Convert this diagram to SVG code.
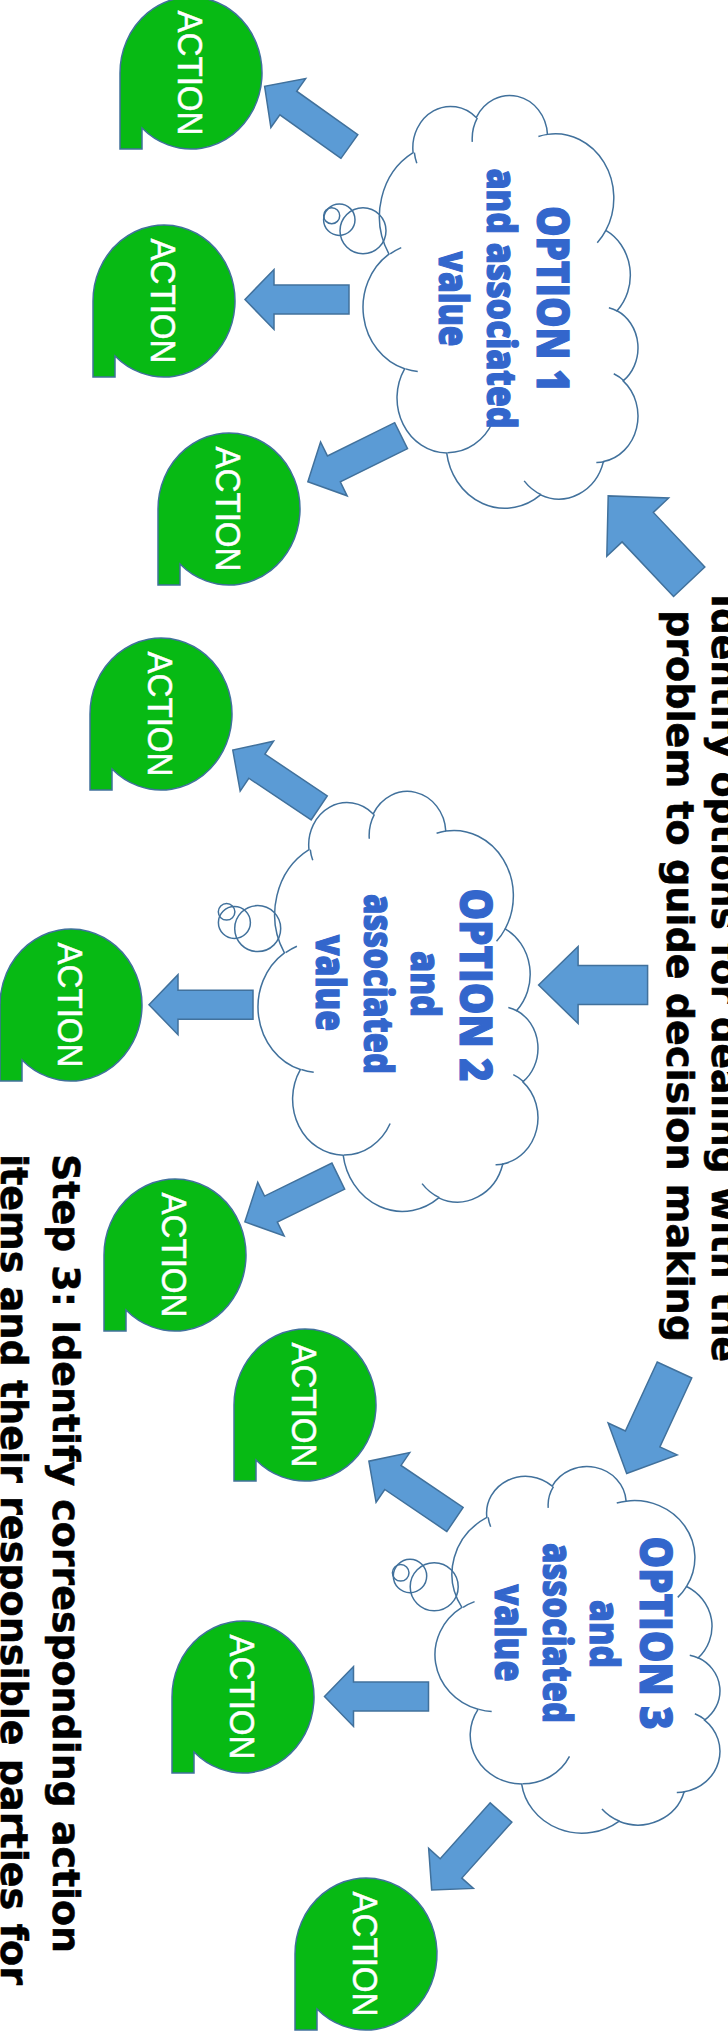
<svg xmlns="http://www.w3.org/2000/svg" xmlns:xlink="http://www.w3.org/1999/xlink" width="728" height="2038" viewBox="0 0 728 2038">
<style>
.bub{fill:#07BA14;stroke:#41719C;stroke-width:1.5}
.act{font-family:"Liberation Sans",Arial,sans-serif;font-size:35px;fill:#FFFFFF;stroke:#FFFFFF;stroke-width:0.5;text-anchor:middle}
.cl{fill:#FFFFFF;stroke:#41719C;stroke-width:1.5;vector-effect:non-scaling-stroke}
.tk{fill:none;stroke:#41719C;stroke-width:1.5;vector-effect:non-scaling-stroke}
.th{fill:none;stroke:#41719C;stroke-width:1.5}
.opt{font-family:"Open Sans","DejaVu Sans",sans-serif;font-weight:800;fill:#3366CC;stroke:#3366CC;stroke-width:1.2;text-anchor:middle}
.o1{font-size:44px}
.o2{font-size:40px}
.arr{fill:#5B9BD5;stroke:#41719C;stroke-width:1.5}
.ttl{font-family:"DejaVu Sans","Liberation Sans",sans-serif;font-weight:bold;font-size:38px;fill:#000000;stroke:#000000;stroke-width:0.6}
</style>
<defs>
<path id="bubble" class="bub" d="M0,76 L0,152 L22,152 L22,131 A71,76 0 1 0 0,76 Z"/>
<path id="cloudShape" class="cl" d="M3900,14370 A6753,9190 0 0 1 14005,5202 A5333,7267 0 0 1 22452,3431 A4365,5945 0 0 1 29826,2479 A4857,6595 0 0 1 38315,5571 A5333,7273 0 0 1 41816,15462 A6775,9220 0 0 1 37402,30205 A5785,7867 0 0 1 28552,36814 A6752,9215 0 0 1 16485,39271 A7720,10543 0 0 1 5827,35483 A4360,5918 0 0 1 2130,25568 A4345,5945 0 0 1 3900,14370 Z"/>
<path id="cloudTicks" class="tk" d="M4693,26177 A4345,5945 0 0 1 2171,25387 M6928,34899 A4360,5918 0 0 1 5818,35282 M16478,39090 A6752,9215 0 0 1 15806,37345 M28827,34751 A6752,9215 0 0 1 28559,36665 M34129,22954 A5785,7867 0 0 1 37379,30088 M41798,15354 A5333,7273 0 0 1 40346,18032 M38324,5426 A4857,6595 0 0 1 38400,6687 M29078,3952 A4857,6595 0 0 1 29818,2340 M22141,4720 A4365,5945 0 0 1 22501,3330 M14000,5192 A6753,9190 0 0 1 15300,6540 M4127,15789 A6753,9190 0 0 1 3900,14370"/>
<polygon id="arrS" class="arr" points="0,-14.5 75,-14.5 75,-30 104,0 75,30 75,14.5 0,14.5"/>
</defs>

<g id="connectors">
<polygon class="arr" transform="translate(689.2,581.7) rotate(226.65)" points="0,-21.5 75,-21.5 75,-42.5 118,0 75,42.5 75,21.5 0,21.5"/>
<polygon class="arr" transform="translate(647.6,985) rotate(180)" points="0,-19.5 69.5,-19.5 69.5,-38.5 109,0 69.5,38.5 69.5,19.5 0,19.5"/>
<polygon class="arr" transform="translate(674.5,1370) rotate(114.8)" points="0,-19 76,-19 76,-38 114,0 76,38 76,19 0,19"/>
<use xlink:href="#arrS" transform="translate(349.4,146.5) rotate(215.4)"/>
<use xlink:href="#arrS" transform="translate(349,299.5) rotate(180)"/>
<use xlink:href="#arrS" transform="translate(401.1,435.7) rotate(153.7)"/>
<use xlink:href="#arrS" transform="translate(319.2,807.9) rotate(213.8)"/>
<use xlink:href="#arrS" transform="translate(253,1004.7) rotate(180)"/>
<use xlink:href="#arrS" transform="translate(338.3,1176.1) rotate(153.9)"/>
<use xlink:href="#arrS" transform="translate(455,1519.5) rotate(214.1)"/>
<use xlink:href="#arrS" transform="translate(428.5,1696.5) rotate(180)"/>
<use xlink:href="#arrS" transform="translate(501,1812.5) rotate(131.8)"/>
</g>

<g id="option1">
<use xlink:href="#cloudShape" transform="matrix(0,0.009508,-0.006364,0,638.9,97.3)"/>
<use xlink:href="#cloudTicks" transform="matrix(0,0.009508,-0.006364,0,638.9,97.3)"/>
<circle class="th" cx="331.7" cy="215.7" r="8"/>
<circle class="th" cx="339.3" cy="219.7" r="15.7"/>
<circle class="th" cx="363" cy="230.7" r="23"/>
<text class="opt o1" transform="translate(536.7,299) rotate(90)" textLength="186" lengthAdjust="spacingAndGlyphs">OPTION 1</text>
<text class="opt o2" transform="translate(486.7,298.5) rotate(90)" textLength="260" lengthAdjust="spacingAndGlyphs">and associated</text>
<text class="opt o2" transform="translate(439.3,299) rotate(90)" textLength="95" lengthAdjust="spacingAndGlyphs">value</text>
</g>

<g id="option2">
<use xlink:href="#cloudShape" transform="matrix(0,0.009674,-0.006480,0,538.9,793.3)"/>
<use xlink:href="#cloudTicks" transform="matrix(0,0.009674,-0.006480,0,538.9,793.3)"/>
<circle class="th" cx="226.6" cy="911.8" r="8.3"/>
<circle class="th" cx="234.4" cy="922.5" r="16"/>
<circle class="th" cx="257.7" cy="928.6" r="23"/>
<text class="opt o1" transform="translate(459.6,985) rotate(90)" textLength="193" lengthAdjust="spacingAndGlyphs">OPTION 2</text>
<text class="opt o2" transform="translate(410.9,984) rotate(90)" textLength="66" lengthAdjust="spacingAndGlyphs">and</text>
<text class="opt o2" transform="translate(364.4,984) rotate(90)" textLength="180" lengthAdjust="spacingAndGlyphs">associated</text>
<text class="opt o2" transform="translate(315.7,983) rotate(90)" textLength="96" lengthAdjust="spacingAndGlyphs">value</text>
</g>

<g id="option3">
<use xlink:href="#cloudShape" transform="matrix(0,0.008444,-0.006596,0,720.9,1468.2)"/>
<use xlink:href="#cloudTicks" transform="matrix(0,0.008444,-0.006596,0,720.9,1468.2)"/>
<circle class="th" cx="400.7" cy="1572.8" r="8.3"/>
<circle class="th" cx="410" cy="1576" r="16.7"/>
<circle class="th" cx="434.2" cy="1586.7" r="24"/>
<text class="opt o1" transform="translate(640,1633) rotate(90)" textLength="193" lengthAdjust="spacingAndGlyphs">OPTION 3</text>
<text class="opt o2" transform="translate(590,1634) rotate(90)" textLength="68" lengthAdjust="spacingAndGlyphs">and</text>
<text class="opt o2" transform="translate(543.3,1633) rotate(90)" textLength="180" lengthAdjust="spacingAndGlyphs">associated</text>
<text class="opt o2" transform="translate(495,1633) rotate(90)" textLength="97" lengthAdjust="spacingAndGlyphs">value</text>
</g>

<g id="action1" transform="translate(120,-3)"><use xlink:href="#bubble"/><text class="act" transform="translate(57.5,76) rotate(90)" textLength="125" lengthAdjust="spacingAndGlyphs">ACTION</text></g>
<g id="action2" transform="translate(93,225)"><use xlink:href="#bubble"/><text class="act" transform="translate(57.5,76) rotate(90)" textLength="125" lengthAdjust="spacingAndGlyphs">ACTION</text></g>
<g id="action3" transform="translate(158,433)"><use xlink:href="#bubble"/><text class="act" transform="translate(57.5,76) rotate(90)" textLength="125" lengthAdjust="spacingAndGlyphs">ACTION</text></g>
<g id="action4" transform="translate(90,638)"><use xlink:href="#bubble"/><text class="act" transform="translate(57.5,76) rotate(90)" textLength="125" lengthAdjust="spacingAndGlyphs">ACTION</text></g>
<g id="action5" transform="translate(0,929)"><use xlink:href="#bubble"/><text class="act" transform="translate(57.5,76) rotate(90)" textLength="125" lengthAdjust="spacingAndGlyphs">ACTION</text></g>
<g id="action6" transform="translate(104,1179)"><use xlink:href="#bubble"/><text class="act" transform="translate(57.5,76) rotate(90)" textLength="125" lengthAdjust="spacingAndGlyphs">ACTION</text></g>
<g id="action7" transform="translate(234,1329)"><use xlink:href="#bubble"/><text class="act" transform="translate(57.5,76) rotate(90)" textLength="125" lengthAdjust="spacingAndGlyphs">ACTION</text></g>
<g id="action8" transform="translate(172,1621)"><use xlink:href="#bubble"/><text class="act" transform="translate(57.5,76) rotate(90)" textLength="125" lengthAdjust="spacingAndGlyphs">ACTION</text></g>
<g id="action9" transform="translate(295,1878)"><use xlink:href="#bubble"/><text class="act" transform="translate(57.5,76) rotate(90)" textLength="125" lengthAdjust="spacingAndGlyphs">ACTION</text></g>

<g id="title-step2">
<text class="ttl" text-anchor="middle" transform="translate(711.7,978) rotate(90)" textLength="768" lengthAdjust="spacingAndGlyphs">Identify options for dealing with the</text>
<text class="ttl" text-anchor="middle" transform="translate(666.7,976) rotate(90)" textLength="732" lengthAdjust="spacingAndGlyphs">problem to guide decision making</text>
</g>
<g id="title-step3">
<text class="ttl" transform="translate(53.3,1154) rotate(90)" textLength="799" lengthAdjust="spacingAndGlyphs">Step 3: Identify corresponding action</text>
<text class="ttl" transform="translate(0.5,1154) rotate(90)" textLength="831" lengthAdjust="spacingAndGlyphs">items and their responsible parties for</text>
</g>
</svg>
